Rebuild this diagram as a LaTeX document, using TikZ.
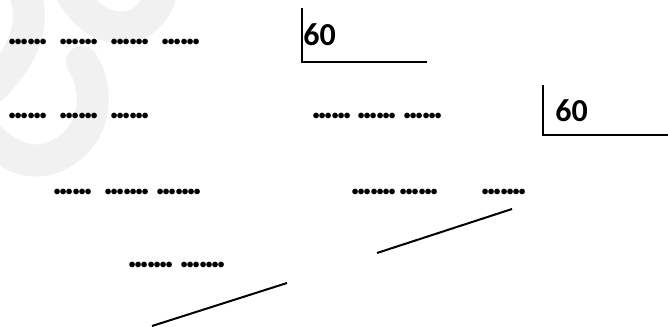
\documentclass[tikz,border=0pt]{standalone}
\usepackage{fontspec}
\setmainfont{Carlito}
\usepackage{tikz}
\definecolor{inkblack}{RGB}{0,0,0}
\definecolor{wmgrey}{RGB}{241,241,241}
\newcommand{\dotrun}[1]{\foreach \i in {1,...,#1}{.\ifnum\i<#1\kern-1.95pt\fi}}
\tikzset{
  base/.style={font=\bfseries, text=inkblack, inner sep=0pt, anchor=west},
  dots/.style={base, font=\bfseries\fontsize{19}{22}\selectfont},
  score/.style={base, font=\bfseries\fontsize{16}{19}\selectfont},
  rule/.style={draw=inkblack, line width=1pt},
  wm/.style={draw=wmgrey, line width=16pt},
}
\begin{document}
\begin{tikzpicture}[x=0.5pt,y=-0.5pt]
  \useasboundingbox (0,0) rectangle (668,326);
  % watermark
  \draw[wm] (70,-10) .. controls (95,40) and (150,40) .. (162,-10);
  \draw[wm] (24,-10) .. controls (38,28) and (20,60) .. (-10,90);
  \draw[wm,line cap=round] (82,62) .. controls (96,82) and (102,128) .. (64,152) .. controls (38,168) and (12,160) .. (-10,138);
  % dotted rows
  \foreach \x/\y/\n/\k in {7/42/r1a/6,58/42/r1b/6,109/42/r1c/6,160/42/r1d/6,
    7/116/r2a/6,58/116/r2b/6,109/116/r2c/6,311/116/r2d/6,356/116/r2e/6,402/116/r2f/6,
    52/192/r3a/6,103/192/r3b/7,155/192/r3c/7,350/192/r3d/7,398/192/r3e/6,480/192/r3f/7,
    127/265/r4a/7,179/265/r4b/7}{
    \node[dots] (\n) at (\x,\y) {\dotrun{\k}};
  }
  % marks
  \node[score] (s1) at (303,35) {60};
  \node[score] (s2) at (555,111) {60};
  \coordinate (s1top) at (302,8);
  \coordinate (s1end) at (427,62);
  \coordinate (s2top) at (543,85);
  \coordinate (s2end) at (668,135);
  \draw[rule] (s1top) |- (s1end);
  \draw[rule] (s2top) |- (s2end);
  % slanted lines
  \coordinate (l1a) at (377,253);
  \coordinate (l1b) at (512,209);
  \coordinate (l2a) at (152,326);
  \coordinate (l2b) at (287,283);
  \draw[rule] (l1a) -- (l1b);
  \draw[rule] (l2a) -- (l2b);
\end{tikzpicture}
\end{document}
